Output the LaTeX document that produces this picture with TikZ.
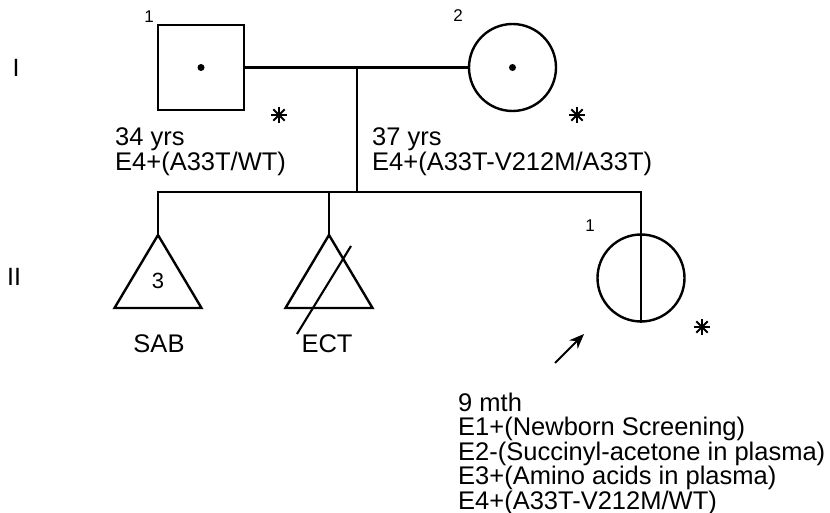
\documentclass[tikz,border=0pt]{standalone}
\usepackage{fontspec}
\setmainfont{Liberation Sans}
\usetikzlibrary{arrows.meta}
\begin{document}
\begin{tikzpicture}[x=1pt,y=-1pt,
  shapeline/.style={draw,line width=2.4pt},
  conn/.style={line width=2.1pt},
  txt/.style={anchor=base west,inner sep=0pt,font=\fontsize{25.5}{25}\selectfont},
  ctxt/.style={anchor=base,inner sep=0pt,font=\fontsize{25.5}{25}\selectfont},
  idlabel/.style={inner sep=0pt,font=\fontsize{17}{17}\selectfont},
  gen/.style={inner sep=0pt,font=\fontsize{25}{25}\selectfont}]
\useasboundingbox (0,0) rectangle (830,513);
% generation labels
\node[gen] (genI) at (16,68) {I};
\node[gen] (genII) at (14,277) {II};
% generation I
\node[shapeline,rectangle,minimum width=86pt,minimum height=85pt,inner sep=0pt] (f) at (201,67.5) {};
\node[shapeline,circle,minimum size=87pt,inner sep=0pt] (m) at (512.5,67.5) {};
\fill (f.center) circle (3.5pt);
\fill (m.center) circle (3.5pt);
\node[idlabel] (n1) at (149,17) {1};
\node[idlabel] (n2) at (458,16) {2};
% marriage and descent
\coordinate (mm) at (357,67.5);
\coordinate (sb) at (357,192);
\coordinate (sbL) at (158,192);
\coordinate (sbE) at (329,192);
\coordinate (sbR) at (641,192);
\draw[conn] (f.east) -- (m.west);
\draw[conn] (mm) -- (sb);
\draw[conn,line cap=rect] (sbL) -- (sbR);
% generation II
\coordinate (t1a) at (158,235);
\coordinate (t1l) at (114.5,308);
\coordinate (t1r) at (201.5,308);
\coordinate (t2a) at (329,235);
\coordinate (t2l) at (285.5,308);
\coordinate (t2r) at (372.5,308);
\draw[line width=2.4pt,line join=miter] (t1a) -- (t1l) -- (t1r) -- cycle;
\draw[line width=2.4pt,line join=miter] (t2a) -- (t2l) -- (t2r) -- cycle;
\node[inner sep=0pt,font=\fontsize{22}{22}\selectfont] (three) at (158,281) {3};
\coordinate (slA) at (297,334);
\coordinate (slB) at (351,246);
\draw[conn] (slA) -- (slB);
\node[shapeline,circle,minimum size=87pt,inner sep=0pt] (p) at (641,278) {};
\draw[line width=1.4pt] (p.north) -- (p.south);
\draw[conn] (sbL) -- (t1a);
\draw[conn] (sbE) -- (t2a);
\draw[conn] (sbR) -- (p.north);
\node[idlabel] (n3) at (590,226) {1};
% asterisks
\foreach \nm/\px/\py in {a1/279/115, a2/577/115, a3/702/327}{
  \coordinate (\nm) at (\px,\py);
  \foreach \ang in {0,45,90,135}{
    \draw[line width=2pt] (\nm) ++(\ang:8pt) -- ++(\ang+180:16pt);
  }
}
% arrow
\coordinate (arT) at (555,363);
\coordinate (arH) at (584,334);
\draw[line width=1.8pt,-{Stealth[length=15pt,width=12pt]}] (arT) -- (arH);
% texts
\node[txt] (t34) at (115,146) {34 yrs};
\node[txt] (g34) at (115,170.5) {E4+(A33T/WT)};
\node[txt] (t37) at (372,146) {37 yrs};
\node[txt] (g37) at (372,170.5) {E4+(A33T-V212M/A33T)};
\node[ctxt] (sab) at (159,352) {SAB};
\node[ctxt] (ect) at (327,352) {ECT};
\node[txt] (b0) at (458,411) {9 mth};
\node[txt] (b1) at (458,435.5) {E1+(Newborn Screening)};
\node[txt] (b2) at (458,460) {E2-(Succinyl-acetone in plasma)};
\node[txt] (b3) at (458,484.5) {E3+(Amino acids in plasma)};
\node[txt] (b4) at (458,509) {E4+(A33T-V212M/WT)};
\end{tikzpicture}
\end{document}
